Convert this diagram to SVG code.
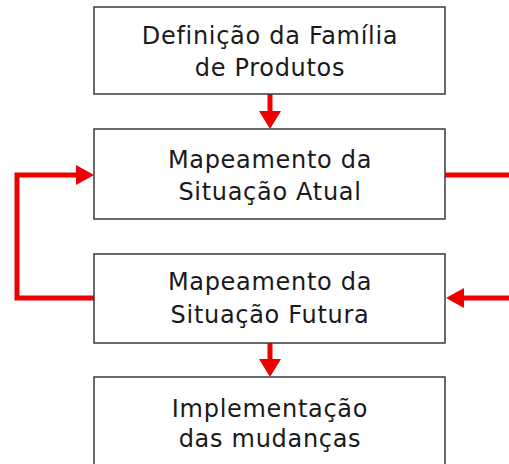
<svg xmlns="http://www.w3.org/2000/svg" width="509" height="464" viewBox="0 0 509 464">
<style>
.box{fill:#fff;stroke:#3a3a3a;stroke-width:1.5}
.t{font-family:"DejaVu Sans","Liberation Sans",sans-serif;font-size:24px;letter-spacing:0.7px;fill:#1a1a1a;text-anchor:middle}
.c{fill:none;stroke:#ee0000;stroke-width:5}
.h{fill:#ee0000}
</style>
<rect width="509" height="464" fill="#fff"/>
<g id="connectors">
<line class="c" x1="270" y1="94" x2="270" y2="112"/>
<polygon class="h" points="259,111 281,111 270,129"/>
<line class="c" x1="270" y1="343" x2="270" y2="360"/>
<polygon class="h" points="259,359 281,359 270,377"/>
<polyline class="c" points="96,298 17,298 17,175 78,175"/>
<polygon class="h" points="76,165 94,175 76,185"/>
<line class="c" x1="445" y1="175" x2="509" y2="175"/>
<line class="c" x1="509" y1="298" x2="462" y2="298"/>
<polygon class="h" points="464,288 446,298 464,308"/>
</g>
<g id="n1"><rect class="box" x="94" y="7" width="351" height="87"/>
<text class="t" x="270" y="44">Definição da Família</text><text class="t" x="270" y="76">de Produtos</text></g>
<g id="n2"><rect class="box" x="94" y="129" width="351" height="90"/>
<text class="t" x="270" y="168">Mapeamento da</text><text class="t" x="270" y="200">Situação Atual</text></g>
<g id="n3"><rect class="box" x="94" y="254" width="351" height="89"/>
<text class="t" x="270" y="290">Mapeamento da</text><text class="t" x="270" y="323">Situação Futura</text></g>
<g id="n4"><rect class="box" x="94" y="377" width="351" height="95"/>
<text class="t" x="270" y="417">Implementação</text><text class="t" x="270" y="447">das mudanças</text></g>
</svg>
